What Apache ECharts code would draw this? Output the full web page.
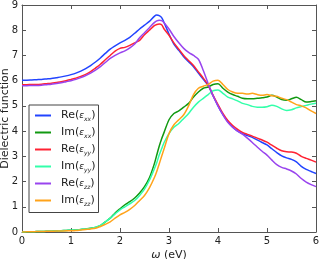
<!DOCTYPE html>
<html><head><meta charset="utf-8">
<script src="https://cdn.jsdelivr.net/npm/echarts@6/dist/echarts.min.js"></script>
<style>html,body{margin:0;padding:0;background:#fff}#c{width:320px;height:259px}</style>
</head><body><div id="c"></div>
<script>
const energy = [0,0.1,0.2,0.3,0.4,0.5,0.6,0.7,0.8,0.9,1.0,1.1,1.2,1.3,1.4,1.5,1.6,1.7,1.8,1.9,2.0,2.1,2.2,2.3,2.4,2.5,2.6,2.7,2.75,2.8,2.85,2.9,3.0,3.1,3.2,3.3,3.4,3.5,3.6,3.7,3.8,3.9,4.0,4.1,4.2,4.3,4.4,4.5,4.6,4.7,4.8,4.9,5.0,5.1,5.2,5.3,5.4,5.5,5.6,5.7,5.8,5.9,6.0];
const reXX = [6.02,6.02,6.03,6.04,6.05,6.07,6.09,6.12,6.15,6.19,6.24,6.3,6.38,6.48,6.6,6.74,6.9,7.08,7.25,7.38,7.5,7.6,7.72,7.88,8.05,8.2,8.35,8.55,8.6,8.58,8.5,8.3,7.85,7.45,7.2,6.95,6.75,6.55,6.3,6.05,5.8,5.4,5.0,4.65,4.38,4.16,4.0,3.9,3.82,3.75,3.65,3.55,3.45,3.3,3.15,3.02,2.94,2.88,2.78,2.6,2.48,2.4,2.32];
const imXX = [0,0.005,0.01,0.015,0.02,0.025,0.03,0.04,0.05,0.06,0.07,0.08,0.1,0.12,0.15,0.18,0.25,0.4,0.55,0.75,0.92,1.08,1.2,1.35,1.55,1.8,2.15,2.7,3.05,3.4,3.7,3.95,4.45,4.7,4.8,4.95,5.1,5.35,5.55,5.7,5.75,5.85,5.88,5.7,5.55,5.45,5.38,5.3,5.28,5.28,5.3,5.32,5.35,5.42,5.35,5.25,5.22,5.28,5.34,5.25,5.15,5.17,5.2];
const reYY = [5.84,5.84,5.85,5.85,5.86,5.88,5.9,5.93,5.96,6.0,6.05,6.1,6.17,6.25,6.36,6.5,6.65,6.83,7.0,7.17,7.28,7.32,7.4,7.5,7.6,7.82,8.0,8.18,8.23,8.25,8.22,8.05,7.8,7.5,7.25,7.0,6.8,6.6,6.35,6.1,5.82,5.42,5.05,4.7,4.42,4.22,4.07,3.95,3.87,3.8,3.72,3.65,3.56,3.44,3.32,3.22,3.18,3.17,3.12,3.0,2.92,2.85,2.77];
const imYY = [0,0.005,0.01,0.015,0.02,0.025,0.03,0.04,0.05,0.06,0.07,0.08,0.1,0.12,0.15,0.19,0.26,0.4,0.55,0.72,0.88,1.0,1.12,1.25,1.45,1.7,2.05,2.5,2.75,3.05,3.3,3.55,3.9,4.15,4.3,4.5,4.7,4.95,5.15,5.3,5.45,5.6,5.63,5.5,5.35,5.28,5.2,5.1,5.05,4.98,4.95,4.95,4.97,5.03,4.98,4.88,4.82,4.85,4.92,4.97,5.02,5.07,5.1];
const reZZ = [5.8,5.8,5.81,5.81,5.82,5.84,5.86,5.89,5.92,5.96,6.0,6.05,6.12,6.2,6.3,6.42,6.56,6.72,6.88,7.0,7.1,7.18,7.3,7.45,7.7,7.9,8.1,8.3,8.37,8.4,8.38,8.3,8.05,7.75,7.5,7.28,7.12,7.0,6.85,6.4,5.88,5.4,5.0,4.65,4.35,4.15,4.0,3.88,3.72,3.55,3.37,3.2,3.05,2.85,2.67,2.56,2.5,2.42,2.3,2.12,1.98,1.88,1.8];
const imZZ = [0,0.005,0.01,0.015,0.02,0.025,0.03,0.035,0.04,0.045,0.05,0.06,0.08,0.1,0.12,0.15,0.22,0.3,0.4,0.55,0.68,0.78,0.9,1.05,1.25,1.45,1.75,2.15,2.4,2.7,3.0,3.3,3.9,4.25,4.45,4.65,5.0,5.45,5.7,5.78,5.85,5.98,6.02,5.85,5.65,5.55,5.5,5.5,5.47,5.5,5.45,5.42,5.45,5.4,5.38,5.3,5.25,5.15,5.05,5.0,4.92,4.8,4.7];
const xTicks = [0,1,2,3,4,5,6];
const yTicks = [0,1,2,3,4,5,6,7,8,9];
const seriesDefs = [
  ['Re(εxx)', reXX, '#2244ff', 'Re', 'xx'],
  ['Im(εxx)', imXX, '#119911', 'Im', 'xx'],
  ['Re(εyy)', reYY, '#ff2233', 'Re', 'yy'],
  ['Im(εyy)', imYY, '#33ffaa', 'Im', 'yy'],
  ['Re(εzz)', reZZ, '#9944ee', 'Re', 'zz'],
  ['Im(εzz)', imZZ, '#ffa31a', 'Im', 'zz']
];
const chart = echarts.init(document.getElementById('c'));
const axisCol = '#555';
const font = 'DejaVu Sans';
const series = seriesDefs.map(d => ({
  name: d[0], type: 'line', showSymbol: false, smooth: 0.3,
  data: energy.map((x, i) => [x, d[1][i]]),
  lineStyle: {color: d[2], width: 1.5}, itemStyle: {color: d[2]}, z: 2
}));
const legendFmt = {};
seriesDefs.forEach(d => legendFmt[d[0]] = '{n|' + d[3] + '(}{e|ε}{s|' + d[4] + '}{n|)}');
chart.setOption({
  animation: false,
  textStyle: {fontFamily: font},
  grid: {left: 22, right: 4, top: 5, bottom: 27, containLabel: false, outerBoundsMode: 'none'},
  xAxis: [{
    type: 'value', min: 0, max: 6, interval: 1,
    name: '{i|ω} (eV)', nameLocation: 'middle', nameGap: 18, nameMoveOverlap: false,
    nameTextStyle: {fontSize: 11, color: '#222', fontFamily: font,
      rich: {i: {fontSize: 11, fontStyle: 'italic', color: '#222', fontFamily: font}}},
    axisLine: {show: true, onZero: false, lineStyle: {color: axisCol, width: 1}},
    axisTick: {show: true, inside: true, length: 4, lineStyle: {color: axisCol}},
    axisLabel: {fontSize: 10, color: '#222', margin: 4, fontFamily: font},
    splitLine: {show: false}
  }, {
    type: 'value', min: 0, max: 6, interval: 1, position: 'top',
    axisLine: {show: true, onZero: false, lineStyle: {color: axisCol, width: 1}},
    axisTick: {show: true, inside: true, length: 4, lineStyle: {color: axisCol}},
    axisLabel: {show: false}, splitLine: {show: false}
  }],
  yAxis: [{
    type: 'value', min: 0, max: 9, interval: 1,
    name: 'Dielectric function', nameLocation: 'middle', nameGap: 11, nameMoveOverlap: false,
    nameTextStyle: {fontSize: 11, color: '#222', fontFamily: font},
    axisLine: {show: true, onZero: false, lineStyle: {color: axisCol, width: 1}},
    axisTick: {show: true, inside: true, length: 4, lineStyle: {color: axisCol}},
    axisLabel: {fontSize: 10, color: '#222', margin: 4, fontFamily: font},
    splitLine: {show: false}
  }, {
    type: 'value', min: 0, max: 9, interval: 1, position: 'right',
    axisLine: {show: true, onZero: false, lineStyle: {color: axisCol, width: 1}},
    axisTick: {show: true, inside: true, length: 4, lineStyle: {color: axisCol}},
    axisLabel: {show: false}, splitLine: {show: false}
  }],
  legend: {
    orient: 'vertical', left: 29, top: 105,
    padding: [5, 3, 5, 6], itemGap: 4.5,
    itemWidth: 16, itemHeight: 14,
    backgroundColor: '#fff', borderColor: '#444', borderWidth: 1, borderRadius: 0,
    icon: 'path://M0,6 L16,6 L16,8 L0,8 Z',
    data: seriesDefs.map(d => d[0]),
    formatter: name => legendFmt[name],
    textStyle: {
      fontFamily: font, padding: [0, 0, 0, 5],
      rich: {
        n: {fontSize: 11, color: '#222', fontFamily: font, lineHeight: 14},
        e: {fontSize: 9, color: '#222', fontStyle: 'italic', fontFamily: font, lineHeight: 14},
        s: {fontSize: 6, color: '#222', fontStyle: 'italic', fontFamily: font, verticalAlign: 'bottom', lineHeight: 11}
      }
    }
  },
  series: series
});
</script></body></html>
